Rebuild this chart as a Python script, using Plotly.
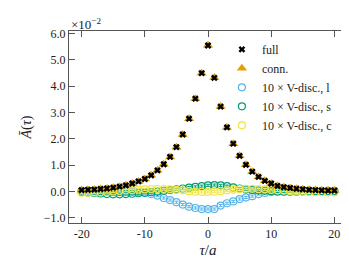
import plotly.graph_objects as go

# Euclidean time separations
tau = list(range(-20, 21))

# values in units of 1e-2
full = [0.05, 0.06, 0.07, 0.09, 0.11, 0.14, 0.18, 0.23, 0.30, 0.38,
        0.47, 0.61, 0.80, 1.03, 1.31, 1.68, 2.16, 2.76, 3.52, 4.49,
        5.54,
        4.31, 3.22, 2.43, 1.81, 1.35, 1.01, 0.75, 0.55, 0.40, 0.30,
        0.21, 0.16, 0.13, 0.10, 0.08, 0.06, 0.05, 0.04, 0.03, 0.03]
conn = [0.05, 0.06, 0.07, 0.09, 0.11, 0.14, 0.18, 0.23, 0.30, 0.38,
        0.47, 0.61, 0.80, 1.03, 1.31, 1.68, 2.16, 2.76, 3.52, 4.49,
        5.55,
        4.32, 3.22, 2.43, 1.81, 1.35, 1.01, 0.75, 0.55, 0.40, 0.30,
        0.21, 0.16, 0.13, 0.10, 0.08, 0.06, 0.05, 0.04, 0.03, 0.03]
disc_l = [0.02, 0.03, 0.02, 0.02, 0.01, 0.01, 0.00, 0.00, -0.01, -0.02,
          -0.06, -0.10, -0.16, -0.25, -0.33, -0.41, -0.50, -0.58, -0.63, -0.67,
          -0.67,
          -0.67, -0.54, -0.45, -0.38, -0.29, -0.23, -0.18, -0.10, -0.06, -0.02,
          -0.01, 0.00, 0.00, 0.01, 0.01, 0.01, 0.00, 0.00, 0.00, 0.00]
disc_s = [-0.02, -0.04, -0.06, -0.08, -0.10, -0.11, -0.11, -0.10, -0.09, -0.07,
          -0.05, -0.03, -0.01, 0.02, 0.05, 0.08, 0.11, 0.14, 0.17, 0.20,
          0.23,
          0.24, 0.23, 0.20, 0.15, 0.11, 0.08, 0.05, 0.03, 0.02, 0.01,
          0.00, -0.01, -0.01, -0.01, 0.00, 0.00, 0.01, 0.01, 0.02, 0.02]
disc_c = [-0.05, -0.05, -0.04, -0.03, -0.02, 0.00, 0.02, 0.04, 0.05, 0.07,
          0.08, 0.09, 0.09, 0.09, 0.08, 0.06, 0.04, 0.01, -0.01, -0.02,
          -0.02,
          -0.01, 0.01, 0.04, 0.07, 0.09, 0.10, 0.10, 0.09, 0.08, 0.06,
          0.04, 0.03, 0.01, 0.00, -0.01, -0.02, -0.03, -0.03, -0.04, -0.04]
err_main = [0.04] * len(tau)
err_disc = [0.04] * len(tau)

x_ticks = [-20, -10, 0, 10, 20]
x_ticktext = ["-20", "-10", "0", "10", "20"]
y_ticks = [-1, 0, 1, 2, 3, 4, 5, 6]
y_ticktext = ["\u22121.0", "0.0", "1.0", "2.0", "3.0", "4.0", "5.0", "6.0"]

FONT = "Liberation Serif"
C_FULL = "black"
C_CONN = "#E69F00"
C_L = "#56B4E9"
C_S = "#009E73"
C_C = "#F0E442"

fig = go.Figure()


def disc_trace(y, color, name, rank):
    return go.Scatter(
        x=tau, y=y, mode="markers", name=name, legendrank=rank,
        marker=dict(symbol="circle-open", size=7, color=color,
                    line=dict(width=1.2, color=color)),
        error_y=dict(type="data", array=err_disc, color=color,
                     thickness=1, width=2),
    )


fig.add_trace(disc_trace(disc_l, C_L, "10 \u00d7 V-disc., l", 3))
fig.add_trace(disc_trace(disc_s, C_S, "10 \u00d7 V-disc., s", 4))
fig.add_trace(disc_trace(disc_c, C_C, "10 \u00d7 V-disc., c", 5))

fig.add_trace(go.Scatter(
    x=tau, y=conn, mode="markers", name="conn.", legendrank=2,
    marker=dict(symbol="triangle-up", size=9, color=C_CONN),
    error_y=dict(type="data", array=err_main, color=C_CONN,
                 thickness=1, width=2),
))
fig.add_trace(go.Scatter(
    x=tau, y=full, mode="markers", name="full", legendrank=1,
    marker=dict(symbol="x", size=6, color=C_FULL,
                line=dict(width=0)),
    error_y=dict(type="data", array=err_main, color="#444",
                 thickness=1, width=2),
))

axis_common = dict(
    showgrid=False, zeroline=False, showline=True, linecolor="#555",
    linewidth=1, mirror="ticks", ticks="inside", ticklen=6,
    tickcolor="#555", tickwidth=1,
    tickfont=dict(family=FONT, size=12, color="#222"),
)

fig.update_xaxes(
    range=[-22, 22], tickvals=x_ticks, ticktext=x_ticktext,
    title=dict(text="<i>\u03c4</i>/<i>a</i>",
               font=dict(family=FONT, size=15, color="#222"), standoff=4),
    **axis_common,
)
fig.update_yaxes(
    range=[-1.2, 6.09], tickvals=y_ticks, ticktext=y_ticktext,
    title=dict(text="<i>\u0100</i>(<i>\u03c4</i>)",
               font=dict(family=FONT, size=14, color="#222"), standoff=8),
    **axis_common,
)

fig.add_annotation(
    text="\u00d710<sup>\u22122</sup>", xref="paper", yref="paper",
    x=0, y=1, xanchor="left", yanchor="bottom", showarrow=False,
    font=dict(family=FONT, size=13, color="#222"), yshift=-3,
)

fig.update_layout(
    width=349, height=260,
    margin=dict(l=61, r=10, t=23, b=45),
    paper_bgcolor="white", plot_bgcolor="white",
    font=dict(family=FONT, color="#222"),
    showlegend=True,
    legend=dict(x=0.55, y=0.98, xanchor="left", yanchor="top",
                bgcolor="rgba(0,0,0,0)", borderwidth=0,
                font=dict(family=FONT, size=12, color="#222"),
                itemwidth=30, tracegroupgap=0),
)

fig.write_html("out.html")
